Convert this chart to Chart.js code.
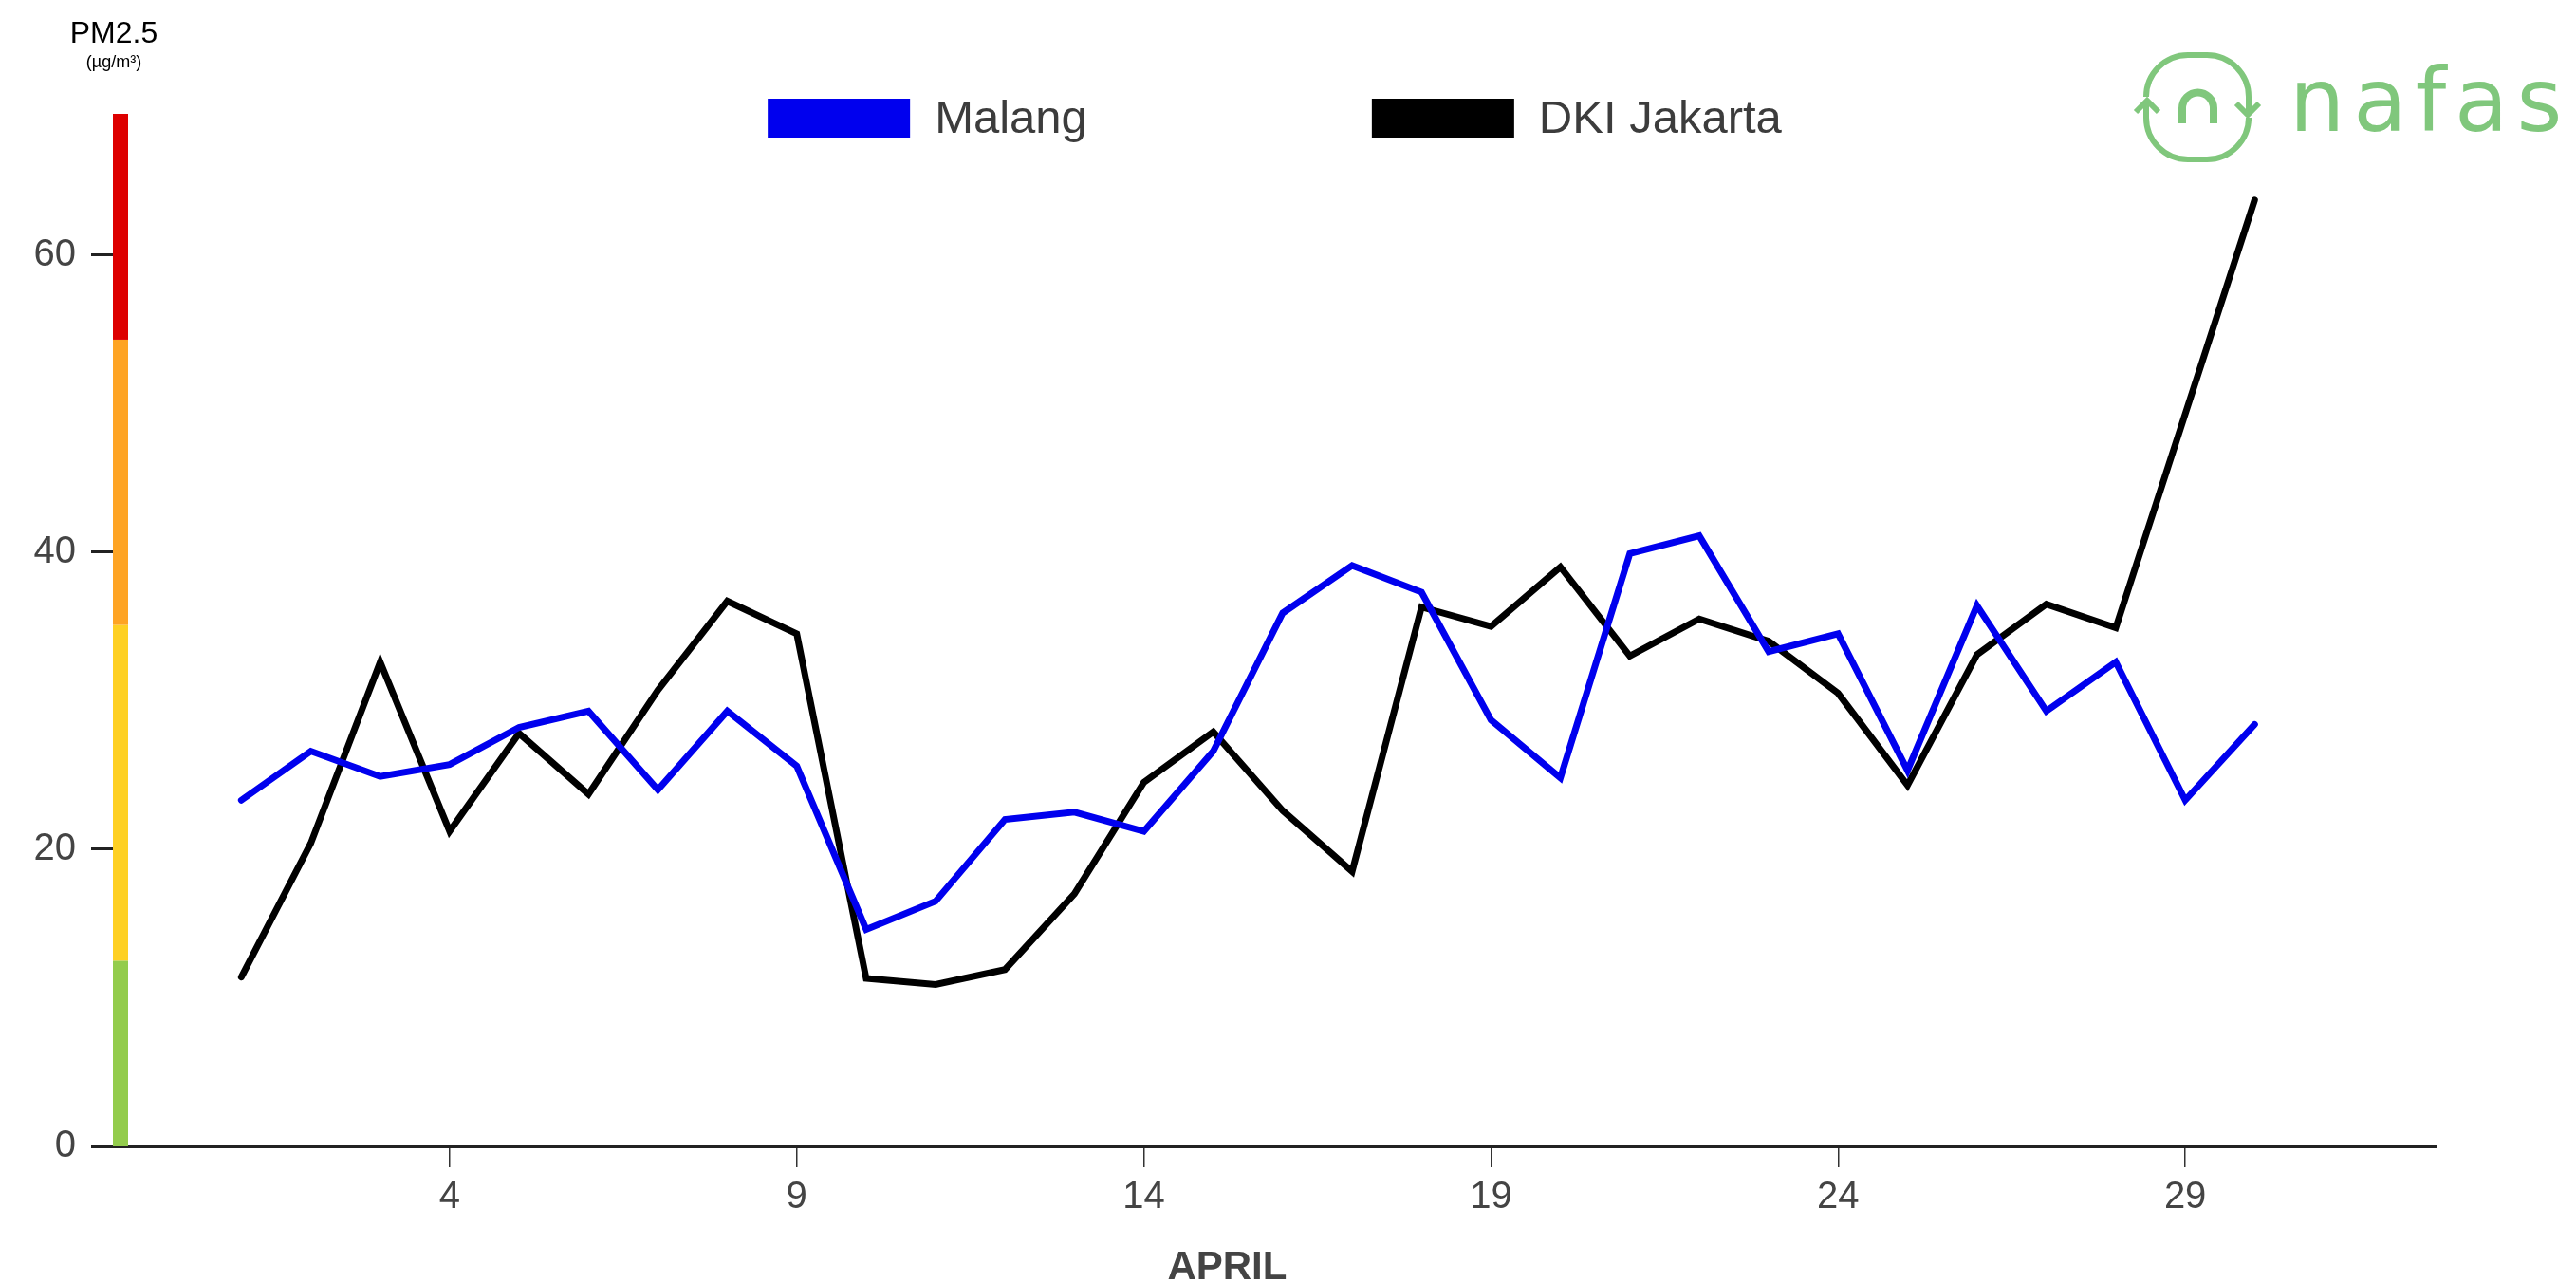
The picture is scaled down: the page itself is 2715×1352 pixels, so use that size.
<!DOCTYPE html>
<html>
<head>
<meta charset="utf-8">
<script src="https://cdn.jsdelivr.net/npm/chart.js@4.4.1/dist/chart.umd.min.js"></script>
<style>
  html, body { margin: 0; padding: 0; background: #fff; }
  #chart { display: block; }
</style>
</head>
<body>
<canvas id="chart" width="2715" height="1352"></canvas>
<script>
// April, daily PM2.5
const days = [1, 2, 3, 4, 5, 6, 7, 8, 9, 10, 11, 12, 13, 14, 15,
  16, 17, 18, 19, 20, 21, 22, 23, 24, 25, 26, 27, 28, 29, 30];
const malang = [23.3, 26.6, 24.9, 25.7, 28.2, 29.3, 24.0, 29.3, 25.6, 14.6,
  16.5, 22.0, 22.5, 21.2, 26.6, 35.9, 39.1, 37.3, 28.7, 24.8,
  39.9, 41.1, 33.3, 34.5, 25.3, 36.4, 29.3, 32.6, 23.3, 28.4];
const jakarta = [11.4, 20.4, 32.6, 21.2, 27.8, 23.7, 30.7, 36.7, 34.5, 11.3,
  10.9, 11.9, 17.0, 24.5, 27.9, 22.6, 18.5, 36.3, 35.0, 39.0,
  33.0, 35.5, 34.0, 30.5, 24.3, 33.1, 36.5, 34.9, 49.3, 63.7];
const seriesNames = ['Malang', 'DKI Jakarta'];
const seriesColors = ['#0000ee', '#000000'];

const xTicks = [4, 9, 14, 19, 24, 29];
const yTicks = [0, 20, 40, 60];
const xMin = -0.85, xMax = 32.62;
const yMin = 0, yMax = 69.5;

// colour scale on the y axis
const bandBreaks = [0, 12.5, 35.1, 54.3, 69.5];
const bandColors = ['#93cc4c', '#fed023', '#fea424', '#dd0000'];

const FONT = '"Liberation Sans", Arial, sans-serif';
const GREEN = '#80c77c';

const toPoints = vals => vals.map((v, i) => ({ x: days[i], y: v }));

const bandPlugin = {
  id: 'band',
  beforeDatasetsDraw(chart) {
    const { ctx, chartArea, scales: { y } } = chart;
    ctx.save();
    bandColors.forEach((c, i) => {
      const top = y.getPixelForValue(bandBreaks[i + 1]);
      const bottom = y.getPixelForValue(bandBreaks[i]);
      ctx.fillStyle = c;
      ctx.fillRect(chartArea.left, top, 16, bottom - top);
    });
    ctx.restore();
  }
};

const extrasPlugin = {
  id: 'extras',
  afterDraw(chart) {
    const { ctx, chartArea, scales: { x } } = chart;
    ctx.save();

    // unit label
    ctx.fillStyle = '#000';
    ctx.textAlign = 'center';
    ctx.textBaseline = 'alphabetic';
    ctx.font = '32px ' + FONT;
    ctx.fillText('PM2.5', 120, 45);
    ctx.font = '18px ' + FONT;
    ctx.fillText('(µg/m³)', 120, 71);

    // x title
    ctx.fillStyle = '#444';
    ctx.font = 'bold 42px ' + FONT;
    ctx.fillText('APRIL', x.getPixelForValue(15.2), 1348);

    // legend
    ctx.font = '49px ' + FONT;
    ctx.textAlign = 'left';
    ctx.textBaseline = 'middle';
    const boxW = 150, boxH = 41, gap = 26, spacing = 300;
    const items = chart.data.datasets.map(ds => ({
      text: ds.label, color: ds.borderColor,
      w: boxW + gap + ctx.measureText(ds.label).width
    }));
    const total = items.reduce((s, it) => s + it.w, 0) + spacing * (items.length - 1);
    let lx = (chartArea.left + chartArea.right) / 2 - total / 2;
    items.forEach(it => {
      ctx.fillStyle = it.color;
      ctx.fillRect(lx, 104, boxW, boxH);
      ctx.fillStyle = '#3c3c3c';
      ctx.fillText(it.text, lx + boxW + gap, 126);
      lx += it.w + spacing;
    });

    // nafas logo
    ctx.strokeStyle = GREEN;
    ctx.lineWidth = 6;
    ctx.lineCap = 'butt';
    ctx.lineJoin = 'miter';
    ctx.beginPath();
    ctx.moveTo(2262, 102);
    ctx.arcTo(2262, 58, 2316, 58, 44);
    ctx.arcTo(2370, 58, 2370, 113, 44);
    ctx.lineTo(2370, 119);
    ctx.stroke();
    ctx.beginPath();
    ctx.moveTo(2357, 109);
    ctx.lineTo(2369, 121);
    ctx.lineTo(2381, 109);
    ctx.stroke();
    ctx.beginPath();
    ctx.moveTo(2370, 127);
    ctx.arcTo(2370, 168, 2316, 168, 44);
    ctx.arcTo(2262, 168, 2262, 113, 44);
    ctx.lineTo(2262, 109);
    ctx.stroke();
    ctx.beginPath();
    ctx.moveTo(2251, 118);
    ctx.lineTo(2263, 106);
    ctx.lineTo(2275, 118);
    ctx.stroke();
    ctx.lineWidth = 8;
    ctx.beginPath();
    ctx.moveTo(2300, 130);
    ctx.lineTo(2300, 114);
    ctx.arc(2316.5, 114, 16.5, Math.PI, 0);
    ctx.lineTo(2333, 130);
    ctx.stroke();

    ctx.fillStyle = GREEN;
    ctx.font = '92px "DejaVu Sans", sans-serif';
    ctx.textBaseline = 'alphabetic';
    ctx.letterSpacing = '9px';
    ctx.fillText('nafas', 2413, 138);
    ctx.restore();
  }
};

const tickFont = { family: FONT, size: 40 };

new Chart(document.getElementById('chart'), {
  type: 'line',
  data: {
    datasets: [
      { label: seriesNames[0], data: toPoints(malang), borderColor: seriesColors[0], backgroundColor: seriesColors[0] },
      { label: seriesNames[1], data: toPoints(jakarta), borderColor: seriesColors[1], backgroundColor: seriesColors[1] }
    ]
  },
  options: {
    responsive: false,
    animation: false,
    devicePixelRatio: 1,
    layout: { padding: { top: 120, right: 147, bottom: 0, left: 0 } },
    elements: {
      line: { borderWidth: 7, tension: 0, borderJoinStyle: 'miter', borderCapStyle: 'round', fill: false },
      point: { radius: 0, hoverRadius: 0 }
    },
    plugins: {
      legend: { display: false },
      tooltip: { enabled: false }
    },
    scales: {
      x: {
        type: 'linear',
        min: xMin,
        max: xMax,
        afterBuildTicks: s => { s.ticks = xTicks.map(v => ({ value: v })); },
        afterFit: s => { s.height = 144; },
        grid: { drawOnChartArea: false, tickLength: 22, color: '#333', lineWidth: 1.5 },
        border: { display: true, color: '#222', width: 3 },
        ticks: { font: tickFont, color: '#444', padding: 8, maxRotation: 0, autoSkip: false }
      },
      y: {
        min: yMin,
        max: yMax,
        afterBuildTicks: s => { s.ticks = yTicks.map(v => ({ value: v })); },
        afterFit: s => { s.width = 119; },
        grid: { drawOnChartArea: false, tickLength: 23, color: '#222', lineWidth: 3 },
        border: { display: false },
        ticks: { font: tickFont, color: '#444', padding: 16 }
      }
    }
  },
  plugins: [bandPlugin, extrasPlugin]
});
</script>
</body>
</html>
